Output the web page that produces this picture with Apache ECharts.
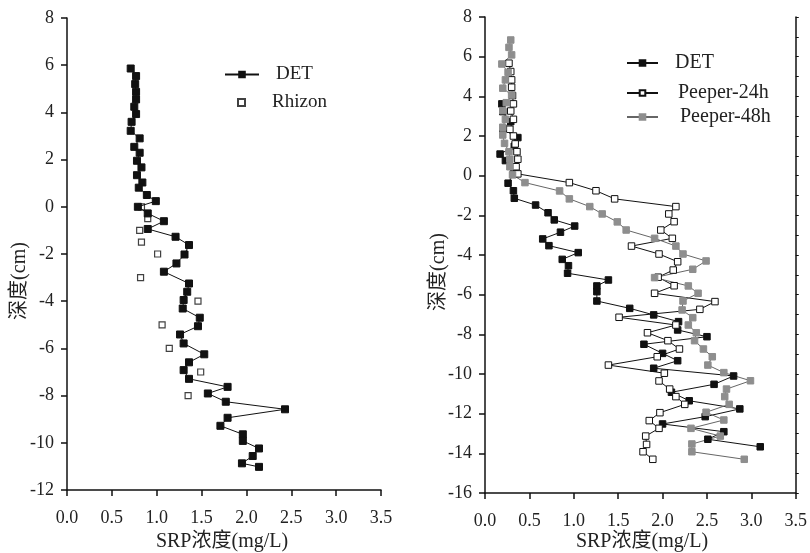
<!DOCTYPE html>
<html>
<head>
<meta charset="utf-8">
<script src="https://cdn.jsdelivr.net/npm/echarts/dist/echarts.min.js"></script>
<style>
  html, body { margin: 0; background: #fff; }
  #chart { width: 810px; height: 553px; }
</style>
</head>
<body>
<div id="chart"></div>
<script>
// 左图：DET 与 Rhizon
const leftDetConc = [0.71, 0.77, 0.76, 0.77, 0.77, 0.75, 0.77, 0.72, 0.71, 0.81, 0.75, 0.81, 0.78, 0.83, 0.78, 0.84, 0.80, 0.89, 0.99, 0.79,
  0.90, 1.08, 0.90, 1.21, 1.36, 1.31, 1.22, 1.08, 1.36, 1.34, 1.30, 1.29, 1.48, 1.46, 1.26, 1.30, 1.53, 1.36, 1.30, 1.36,
  1.79, 1.57, 1.77, 2.43, 1.79, 1.71, 1.96, 1.96, 2.14, 2.07, 1.95, 2.14]
const leftDetDepth = [5.86, 5.54, 5.20, 4.87, 4.55, 4.24, 3.93, 3.60, 3.22, 2.90, 2.54, 2.29, 1.95, 1.67, 1.34, 1.03, 0.81, 0.50, 0.24, 0.00,
  -0.28, -0.61, -0.94, -1.27, -1.62, -2.02, -2.40, -2.75, -3.25, -3.60, -3.95, -4.31, -4.70, -5.06, -5.41, -5.79, -6.25, -6.59, -6.92, -7.29,
  -7.63, -7.91, -8.26, -8.58, -8.94, -9.28, -9.64, -9.92, -10.24, -10.56, -10.87, -11.02]
const rhizonConc = [0.83, 0.90, 0.81, 0.83, 1.01, 0.82, 1.46, 1.06, 1.14, 1.49, 1.35]
const rhizonDepth = [0, -0.5, -1, -1.5, -2, -3, -4, -5, -6, -7, -8]

// 右图：DET、Peeper-24h、Peeper-48h
const rightDetConc = [0.19, 0.20, 0.29, 0.20, 0.37, 0.33, 0.17, 0.23, 0.32, 0.26, 0.32, 0.33, 0.57, 0.71, 0.78, 1.01, 0.85, 0.65, 0.72, 1.05,
  0.87, 0.94, 0.93, 1.39, 1.26, 1.26, 1.26, 1.63, 1.90, 2.18, 2.17, 2.50, 1.79, 2.00, 2.17, 1.90, 2.80, 2.58, 2.10, 2.30,
  2.87, 2.48, 2.00, 2.69, 2.51, 3.10]
const rightDetDepth = [3.62, 3.23, 2.72, 2.34, 1.92, 1.48, 1.09, 0.76, 0.09, -0.38, -0.76, -1.14, -1.48, -1.87, -2.23, -2.54, -2.85, -3.19, -3.53, -3.88,
  -4.22, -4.54, -4.92, -5.26, -5.56, -5.85, -6.32, -6.69, -7.02, -7.36, -7.78, -8.12, -8.50, -8.96, -9.33, -9.71, -10.10, -10.52, -10.92, -11.35,
  -11.76, -12.15, -12.52, -12.91, -13.29, -13.67]
const peeper24Conc = [0.27, 0.29, 0.30, 0.30, 0.31, 0.32, 0.29, 0.32, 0.28, 0.32, 0.34, 0.36, 0.37, 0.35, 0.37,
  0.95, 1.25, 1.46, 2.15, 2.07, 2.13, 1.98, 2.11, 1.65, 1.96, 2.17, 2.12, 1.95, 2.13, 1.91, 2.59, 2.42, 1.51, 2.15, 1.83,
  2.06, 2.19, 1.94, 1.39, 2.02, 1.96, 2.08, 2.15, 2.25, 1.97, 1.85, 1.96, 1.81, 1.82, 1.78, 1.89]
const peeper24Depth = [5.67, 5.25, 4.83, 4.46, 4.04, 3.62, 3.26, 2.84, 2.34, 2.00, 1.60, 1.21, 0.83, 0.45, 0.09,
  -0.35, -0.76, -1.17, -1.56, -1.93, -2.32, -2.74, -3.16, -3.55, -3.95, -4.34, -4.76, -5.12, -5.55, -5.93, -6.35, -6.74, -7.14, -7.53, -7.92,
  -8.32, -8.74, -9.13, -9.55, -9.96, -10.35, -10.76, -11.14, -11.53, -11.95, -12.35, -12.74, -13.13, -13.55, -13.92, -14.30]
const peeper48Conc = [0.29, 0.27, 0.30, 0.19, 0.26, 0.23, 0.20, 0.30, 0.24, 0.20, 0.23, 0.20, 0.20, 0.22, 0.27, 0.28, 0.28, 0.31, 0.45, 0.84,
  0.95, 1.18, 1.32, 1.49, 1.59, 1.91, 2.15, 2.23, 2.49, 2.34, 1.91, 2.29, 2.40, 2.23, 2.22, 2.34, 2.29, 2.38, 2.36, 2.46,
  2.56, 2.51, 2.69, 2.99, 2.72, 2.70, 2.75, 2.49, 2.69, 2.32, 2.65, 2.33, 2.33, 2.92]
const peeper48Depth = [6.84, 6.47, 6.09, 5.63, 5.21, 4.83, 4.41, 4.07, 3.68, 3.28, 2.84, 2.44, 2.05, 1.63, 1.21, 0.83, 0.45, 0.04, -0.35, -0.77,
  -1.17, -1.56, -1.93, -2.33, -2.74, -3.16, -3.55, -3.95, -4.30, -4.72, -5.14, -5.56, -5.93, -6.32, -6.77, -7.16, -7.53, -7.92, -8.32, -8.74,
  -9.13, -9.55, -9.93, -10.34, -10.76, -11.14, -11.53, -11.93, -12.32, -12.74, -13.13, -13.53, -13.92, -14.30]

const xRange = [0, 3.5]
const leftDepthRange = [-12, 8]
const rightDepthRange = [-16, 8]
const xTitle = 'SRP浓度(mg/L)'
const yTitle = '深度(cm)'

const FONT = "'Liberation Serif', 'Times New Roman', 'Noto Sans CJK SC', serif"
const toPoints = (xs, ys) => xs.map((x, i) => [x, ys[i]])

const makeXAxis = (gridIndex) => ({
  type: 'value',
  gridIndex,
  min: xRange[0],
  max: xRange[1],
  interval: 0.5,
  axisLine: { show: true, onZero: false, lineStyle: { color: '#111', width: 1.5 } },
  axisTick: { show: true, inside: false, length: 6, lineStyle: { color: '#111', width: 1.5 } },
  axisLabel: { fontFamily: FONT, fontSize: 18, color: '#222', margin: 19, formatter: v => v.toFixed(1) },
  splitLine: { show: false }
})

const makeYAxis = (gridIndex, range) => ({
  type: 'value',
  gridIndex,
  min: range[0],
  max: range[1],
  interval: 2,
  axisLine: { show: true, onZero: false, lineStyle: { color: '#111', width: 1.5 } },
  axisTick: { show: true, inside: false, length: 6, lineStyle: { color: '#111', width: 1.5 } },
  axisLabel: { fontFamily: FONT, fontSize: 18, color: '#222', margin: 13 },
  splitLine: { show: false }
})

const lineSeries = (name, xIdx, yIdx, pts, lineColor, fill, border, size) => ({
  name,
  type: 'line',
  xAxisIndex: xIdx,
  yAxisIndex: yIdx,
  data: pts,
  symbol: 'rect',
  symbolSize: size,
  showAllSymbol: true,
  lineStyle: { color: lineColor, width: 1 },
  itemStyle: { color: fill, borderColor: border, borderWidth: 1 },
  emphasis: { disabled: true },
  animation: false
})

const chart = echarts.init(document.getElementById('chart'))

const legendText = (size, pad) => ({ fontFamily: FONT, fontSize: size, color: '#222', padding: [0, 0, 0, pad] })

chart.setOption({
  backgroundColor: '#fff',
  animation: false,
  grid: [
    { left: 67, top: 18, width: 314, height: 472 },
    { left: 485, top: 17, width: 314, height: 476 }
  ],
  xAxis: [makeXAxis(0), makeXAxis(1)],
  yAxis: [
    makeYAxis(0, leftDepthRange),
    makeYAxis(1, rightDepthRange),
    {
      type: 'value',
      gridIndex: 1,
      position: 'right',
      min: rightDepthRange[0],
      max: rightDepthRange[1],
      interval: 1,
      axisLine: { show: true, onZero: false, lineStyle: { color: '#111', width: 1.5 } },
      axisTick: { show: true, inside: false, length: 3, lineStyle: { color: '#111', width: 1 } },
      axisLabel: { show: false },
      splitLine: { show: false }
    }
  ],
  legend: [
    { data: ['DET'], left: 219, top: 60, itemWidth: 34, itemHeight: 7, textStyle: legendText(19, 12) },
    { data: ['Rhizon'], left: 232, top: 88, itemWidth: 7, itemHeight: 7, textStyle: legendText(19, 22) },
    { data: ['DET '], left: 621, top: 48, itemWidth: 31, itemHeight: 7, textStyle: legendText(20, 12) },
    { data: ['Peeper-24h'], left: 621, top: 78, itemWidth: 31, itemHeight: 7, textStyle: legendText(20, 15) },
    { data: ['Peeper-48h'], left: 621, top: 102, itemWidth: 31, itemHeight: 7, textStyle: legendText(20, 17) }
  ],
  graphic: [
    { type: 'text', x: 20, y: 281, rotation: Math.PI / 2, style: { text: yTitle, font: '20px ' + FONT, fill: '#222', textAlign: 'center', textVerticalAlign: 'middle' } },
    { type: 'text', x: 439, y: 272, rotation: Math.PI / 2, style: { text: yTitle, font: '20px ' + FONT, fill: '#222', textAlign: 'center', textVerticalAlign: 'middle' } },
    { type: 'text', x: 222, y: 542, style: { text: xTitle, font: '20px ' + FONT, fill: '#222', textAlign: 'center', textVerticalAlign: 'middle' } },
    { type: 'text', x: 642, y: 542, style: { text: xTitle, font: '20px ' + FONT, fill: '#222', textAlign: 'center', textVerticalAlign: 'middle' } }
  ],
  series: [
    lineSeries('DET', 0, 0, toPoints(leftDetConc, leftDetDepth), '#111', '#111', '#111', 7),
    {
      name: 'Rhizon',
      type: 'scatter',
      xAxisIndex: 0,
      yAxisIndex: 0,
      data: toPoints(rhizonConc, rhizonDepth),
      symbol: 'rect',
      symbolSize: 6,
      itemStyle: { color: '#fff', borderColor: '#111', borderWidth: 1.2 },
      emphasis: { disabled: true }
    },
    lineSeries('DET ', 1, 1, toPoints(rightDetConc, rightDetDepth), '#111', '#111', '#111', 6.5),
    lineSeries('Peeper-24h', 1, 1, toPoints(peeper24Conc, peeper24Depth), '#111', '#fff', '#111', 6.5),
    lineSeries('Peeper-48h', 1, 1, toPoints(peeper48Conc, peeper48Depth), '#666', '#8e8e8e', '#8e8e8e', 6.5)
  ]
})
</script>
</body>
</html>
